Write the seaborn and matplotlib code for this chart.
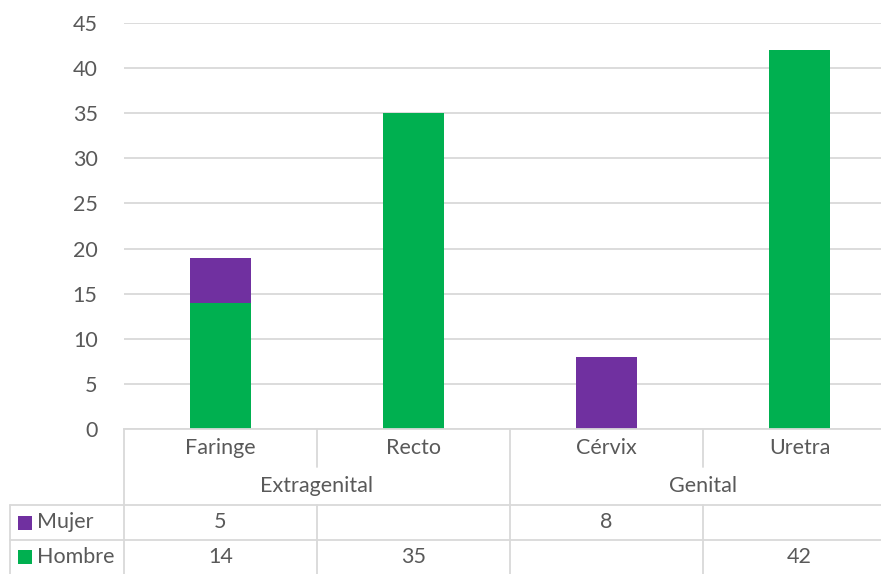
import numpy as np
import pandas as pd
import matplotlib
matplotlib.use("Agg")
import matplotlib.pyplot as plt
from matplotlib.lines import Line2D
from matplotlib.patches import Rectangle
from matplotlib.transforms import blended_transform_factory
import seaborn as sns

# Data
categories = ["Faringe", "Recto", "Cérvix", "Uretra"]
groups = ["Extragenital", "Genital"]
group_sizes = [2, 2]
mujer = [5, None, 8, None]
hombre = [14, 35, None, 42]
y_ticks = [0, 5, 10, 15, 20, 25, 30, 35, 40, 45]

PURPLE = "#7030A0"
GREEN = "#00B050"
TEXT = "#595959"
GRID = "#D9D9D9"

sns.set_theme(style="white")
plt.rcParams["font.family"] = ["Lato", "DejaVu Sans"]

W, H = 881, 574
fig = plt.figure(figsize=(W / 100, H / 100), dpi=100)
ax_left, ax_right, ax_top, ax_bottom = 124, 896, 23, 429
ax = fig.add_axes([ax_left / W, 1 - ax_bottom / H,
                   (ax_right - ax_left) / W, (ax_bottom - ax_top) / H])

m = np.array([v if v is not None else 0 for v in mujer], dtype=float)
h = np.array([v if v is not None else 0 for v in hombre], dtype=float)
total = m + h
df = pd.DataFrame({
    "cat": categories,
    "top": np.where(m > 0, total, 0.0),
    "hombre": h,
})

bar_w = 0.316
# stacked: total (Mujer on top) first, then Hombre over it
sns.barplot(data=df, x="cat", y="top", order=categories, color=PURPLE,
            saturation=1, width=bar_w, linewidth=0, ax=ax)
sns.barplot(data=df, x="cat", y="hombre", order=categories, color=GREEN,
            saturation=1, width=bar_w, linewidth=0, ax=ax)

fs = 15.5
ax.set_xlim(-0.5, len(categories) - 0.5)
ax.set_ylim(0, 45)
ax.set_yticks(y_ticks)
ax.set_yticklabels([str(t) for t in y_ticks], fontsize=fs, color=TEXT)
ax.tick_params(axis="y", length=0, pad=19)
ax.set_xticks([])
ax.set_xlabel("")
ax.set_ylabel("")
ax.yaxis.grid(True, color=GRID, linewidth=1.3)
ax.set_axisbelow(True)
for s in ["left", "right", "top"]:
    ax.spines[s].set_visible(False)
ax.spines["bottom"].set_color(GRID)
ax.spines["bottom"].set_linewidth(1.3)

# Data table below the axis
tr = blended_transform_factory(ax.transData, fig.transFigure)
ff = fig.transFigure


def fy(py):
    return 1 - py / H


def vline(x, y0, y1, trans):
    fig.add_artist(Line2D([x, x], [fy(y0), fy(y1)], transform=trans,
                          color=GRID, linewidth=1.3))


def hline(x0, x1, y):
    fig.add_artist(Line2D([x0 / W, x1 / W], [fy(y), fy(y)], transform=ff,
                          color=GRID, linewidth=1.3))


row_cat, row_grp, row_m, row_h, row_end = 429, 467, 505, 540, 574
n = len(categories)

# left border of table and legend column
vline(ax_left / W, row_cat, row_end, ff)
vline(10 / W, row_m, row_end, ff)
hline(10, W, row_m)
hline(10, W, row_h)

# separators
boundaries = [i + 0.5 for i in range(n - 1)]
group_edges = np.cumsum(group_sizes)[:-1] - 0.5
for b in boundaries:
    if b in group_edges:
        vline(b, row_cat, row_end, tr)
    else:
        vline(b, row_cat, row_grp, tr)
        vline(b, row_m, row_end, tr)

for i, c in enumerate(categories):
    fig.text(i, fy((row_cat + row_grp) / 2), c, transform=tr, ha="center",
             va="center", fontsize=fs, color=TEXT)
start = 0
for g, size in zip(groups, group_sizes):
    xc = start + (size - 1) / 2
    fig.text(xc, fy((row_grp + row_m) / 2), g, transform=tr, ha="center",
             va="center", fontsize=fs, color=TEXT)
    start += size

for vals, (y0, y1), name, col in [(mujer, (row_m, row_h), "Mujer", PURPLE),
                                  (hombre, (row_h, row_end), "Hombre", GREEN)]:
    yc = fy((y0 + y1) / 2)
    fig.add_artist(Rectangle((18 / W, yc - 7 / H), 14 / W, 14 / H,
                             transform=ff, facecolor=col, edgecolor="none"))
    fig.text(37 / W, yc, name, transform=ff, ha="left", va="center",
             fontsize=fs, color=TEXT)
    for i, v in enumerate(vals):
        if v is not None:
            fig.text(i, yc, str(v), transform=tr, ha="center", va="center",
                     fontsize=fs, color=TEXT)

fig.savefig("out.png", dpi=100, facecolor="white")
